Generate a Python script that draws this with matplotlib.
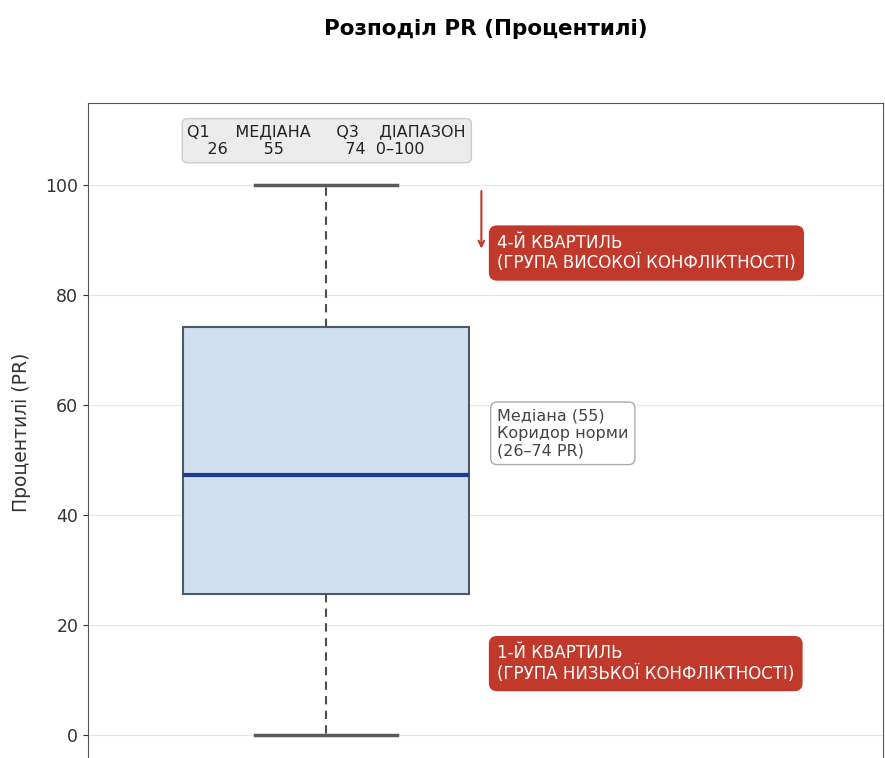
import matplotlib.pyplot as plt

# box statistics (as drawn)
q1 = 25.7
med = 47.4
q3 = 74.2
whislo = 0
whishi = 100

# labels
stat_names = ["Q1", "МЕДІАНА", "Q3", "ДІАПАЗОН"]
stat_values = ["26", "55", "74", "0–100"]
yticks = [0, 20, 40, 60, 80, 100]

fig = plt.figure(figsize=(8.85, 7.58), dpi=100)
ax = fig.add_axes([88 / 885, -4.5 / 758, 795 / 885, 659.5 / 758])

stats = [dict(med=med, q1=q1, q3=q3, whislo=whislo, whishi=whishi, fliers=[])]
ax.bxp(stats, positions=[1], widths=0.5, patch_artist=True, showfliers=False,
       boxprops=dict(facecolor="#cfe0f1", edgecolor="#4d5966", linewidth=1.5),
       medianprops=dict(color="#1f3a93", linewidth=3),
       whiskerprops=dict(color="#4d4d4d", linewidth=1.5, linestyle=(0, (4, 3))),
       capprops=dict(color="#5a5a5a", linewidth=2.5))

ax.set_xlim(0.5825, 1.977)
ax.set_ylim(-5, 115)
ax.set_yticks(yticks)
ax.set_xticks([])
ax.tick_params(axis="y", labelsize=12.5, colors="#333333")
ax.grid(axis="y", color="#e6e6e6", linewidth=0.8)
ax.set_axisbelow(True)
for s in ax.spines.values():
    s.set_color("#555555")
ax.set_ylabel("Процентилі (PR)", fontsize=13.5, color="#333333", labelpad=10)
ax.set_title("Розподіл PR (Процентилі)", fontsize=15.5, fontweight="bold", pad=49)

# stats box at the top
row1 = (f"{stat_names[0]}     {stat_names[1]}     {stat_names[2]}    "
        f"{stat_names[3]}")
row2 = (f"    {stat_values[0]}       {stat_values[1]}            "
        f"{stat_values[2]}  {stat_values[3]}")
ax.text(0.757, 111.2, row1 + "\n" + row2, fontsize=11.5, color="#222222",
        va="top", ha="left", linespacing=1.3,
        bbox=dict(boxstyle="round,pad=0.33", facecolor="#ececec", edgecolor="#cccccc"))

# arrow pointing into the upper quartile
ax.annotate("", xy=(1.2725, 88), xytext=(1.2725, 99.5),
            arrowprops=dict(arrowstyle="->", color="#c0392b", lw=1.5))

red_box = dict(boxstyle="round,pad=0.45", facecolor="#c0392b", edgecolor="#c0392b")
ax.text(1.300, 87.7, "4-Й КВАРТИЛЬ\n(ГРУПА ВИСОКОЇ КОНФЛІКТНОСТІ)", fontsize=12,
        color="white", va="center", ha="left", bbox=red_box)
ax.text(1.300, 13.0, "1-Й КВАРТИЛЬ\n(ГРУПА НИЗЬКОЇ КОНФЛІКТНОСТІ)", fontsize=12,
        color="white", va="center", ha="left", bbox=red_box)

ax.text(1.300, 54.9, "Медіана (55)\nКоридор норми\n(26–74 PR)", fontsize=11.5,
        color="#444444", va="center", ha="left",
        bbox=dict(boxstyle="round,pad=0.4", facecolor="white", edgecolor="#aaaaaa"))

fig.savefig("out.png", dpi=100)
